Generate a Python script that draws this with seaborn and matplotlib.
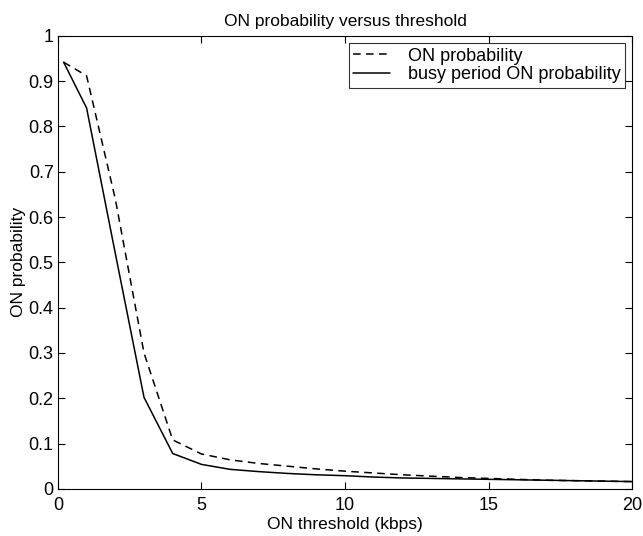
import numpy as np
import pandas as pd
import matplotlib
matplotlib.use("Agg")
import matplotlib.pyplot as plt
from matplotlib.ticker import FuncFormatter
import seaborn as sns

# Data
threshold = [0.2, 1, 2, 3, 4, 5, 6, 7, 8, 9, 10, 11, 12, 13, 14, 15, 16, 17, 18, 19, 20]
on_prob = [0.942, 0.912, 0.64, 0.30, 0.108, 0.077, 0.064, 0.056, 0.050, 0.044, 0.039,
           0.035, 0.031, 0.028, 0.025, 0.023, 0.021, 0.019, 0.018, 0.017, 0.016]
busy_on_prob = [0.942, 0.841, 0.52, 0.202, 0.078, 0.054, 0.043, 0.038, 0.034, 0.031, 0.029,
                0.026, 0.024, 0.023, 0.022, 0.021, 0.020, 0.019, 0.018, 0.017, 0.016]
series_names = ["ON probability", "busy period ON probability"]

df = pd.concat([
    pd.DataFrame({"x": threshold, "y": on_prob, "series": series_names[0]}),
    pd.DataFrame({"x": threshold, "y": busy_on_prob, "series": series_names[1]}),
])

sns.set_theme(style="white")
plt.rcParams["font.family"] = ["Liberation Sans", "DejaVu Sans"]
plt.rcParams["xtick.direction"] = "in"
plt.rcParams["ytick.direction"] = "in"
plt.rcParams["text.color"] = "black"
plt.rcParams["axes.labelcolor"] = "black"

fig = plt.figure(figsize=(6.43, 5.36), dpi=100)
ax = fig.add_axes([0.090, 0.088, 0.893, 0.845])

sns.lineplot(data=df, x="x", y="y", style="series", style_order=series_names,
             dashes={series_names[0]: (5, 3.5), series_names[1]: ""},
             color="black", linewidth=1.1, ax=ax, sort=False)

ax.set_xlim(0, 20)
ax.set_ylim(0, 1)
ax.set_xticks([0, 5, 10, 15, 20])
ax.set_yticks(np.arange(0, 11) / 10)
ax.yaxis.set_major_formatter(FuncFormatter(lambda v, p: f"{v:g}"))
ax.xaxis.set_major_formatter(FuncFormatter(lambda v, p: f"{v:g}"))
ax.tick_params(axis="both", which="both", labelsize=13, length=5, width=0.8,
               top=True, right=True, bottom=True, left=True, colors="black", pad=3)
ax.tick_params(axis="x", pad=6)
for s in ax.spines.values():
    s.set_color("black")
    s.set_linewidth(0.8)

ax.set_xlabel("ON threshold (kbps)", fontsize=12.5, labelpad=2, color="black")
ax.set_ylabel("ON probability", fontsize=12.5, labelpad=2, color="black")
ax.set_title("ON probability versus threshold", fontsize=12.5, pad=7, color="black")

leg = ax.legend(loc="upper right", fontsize=13, frameon=True, fancybox=False,
                handlelength=2.0, handletextpad=1.0, borderaxespad=0.4,
                borderpad=0.25, labelspacing=0.1)
leg.get_frame().set_edgecolor("black")
leg.get_frame().set_linewidth(0.8)
for t in leg.get_texts():
    t.set_color("black")

fig.savefig("out.png", dpi=100)
